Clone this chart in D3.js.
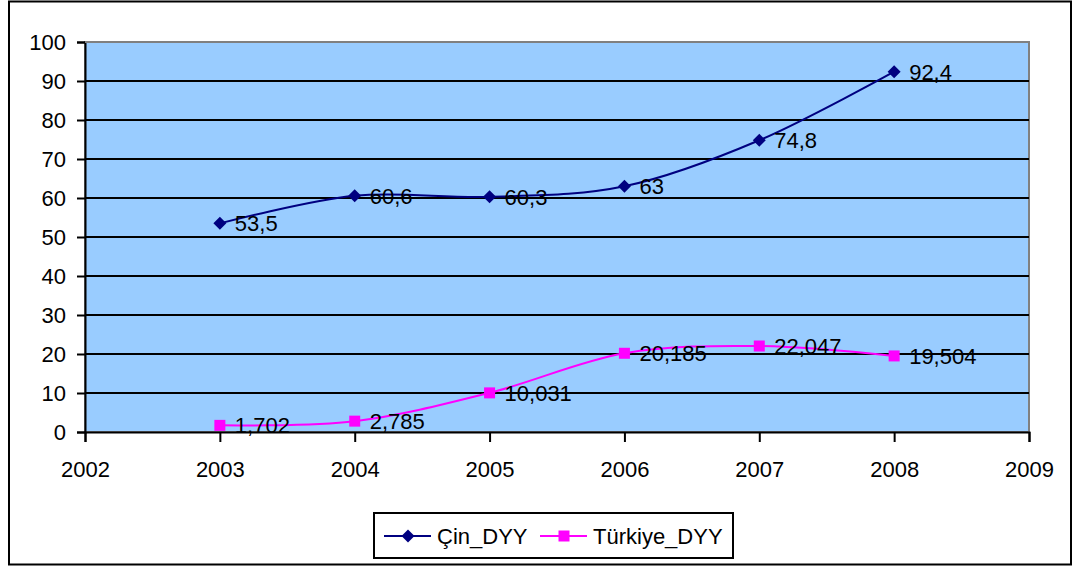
<!DOCTYPE html>
<html>
<head>
<meta charset="utf-8">
<script src="https://cdn.jsdelivr.net/npm/d3@7"></script>
<style>
  body { margin: 0; background: #fff; }
  text { font-family: "Liberation Sans", Arial, sans-serif; fill: #000; }
</style>
</head>
<body>
<div id="chart"></div>
<script>
// data
const years = [2003, 2004, 2005, 2006, 2007, 2008];
const cinValues = [53.5, 60.6, 60.3, 63, 74.8, 92.4];
const turkiyeValues = [1.702, 2.785, 10.031, 20.185, 22.047, 19.504];
const cinLabels = ["53,5", "60,6", "60,3", "63", "74,8", "92,4"];
const turkiyeLabels = ["1,702", "2,785", "10,031", "20,185", "22,047", "19,504"];
const seriesNames = ["Çin_DYY", "Türkiye_DYY"];
const xTicks = [2002, 2003, 2004, 2005, 2006, 2007, 2008, 2009];
const yTicks = [0, 10, 20, 30, 40, 50, 60, 70, 80, 90, 100];

const width = 1074, height = 568;
const plot = {left: 85, right: 1029, top: 42, bottom: 432};

let svg = d3.select("#chart").append("svg")
    .attr("width", width)
    .attr("height", height);

// outer frame
svg.append("rect")
    .attr("x", 9).attr("y", 1.5)
    .attr("width", 1062).attr("height", 563)
    .style("fill", "white")
    .style("stroke", "black")
    .style("stroke-width", 2);

let x = d3.scaleLinear().domain([2002, 2009]).range([plot.left, plot.right]);
let y = d3.scaleLinear().domain([0, 100]).range([plot.bottom, plot.top]);

// plot area
svg.append("rect")
    .attr("x", plot.left).attr("y", plot.top)
    .attr("width", plot.right - plot.left).attr("height", plot.bottom - plot.top)
    .style("fill", "#99CCFF")
    .style("stroke", "#808080")
    .style("stroke-width", 2);

// gridlines
svg.append("g").selectAll("line")
    .data(yTicks.filter(d => d > 0 && d < 100))
    .join("line")
        .attr("x1", plot.left).attr("x2", plot.right)
        .attr("y1", d => y(d)).attr("y2", d => y(d))
        .style("stroke", "black")
        .style("stroke-width", 2);

// y axis
let yAxis = d3.axisLeft(y).tickValues(yTicks).tickSize(8).tickPadding(11).tickFormat(d3.format("d"));
let gy = svg.append("g")
    .attr("transform", "translate(" + plot.left + ",0)")
    .call(yAxis);
gy.select(".domain").style("stroke", "black").style("stroke-width", 2);
gy.selectAll(".tick line").style("stroke", "black").style("stroke-width", 2);
gy.selectAll(".tick text").style("font-size", "22px").attr("dy", "0.35em")
    .style("font-family", "'Liberation Sans', Arial, sans-serif");

// x axis
let xAxis = d3.axisBottom(x).tickValues(xTicks).tickSize(10).tickPadding(19).tickFormat(d3.format("d"));
let gx = svg.append("g")
    .attr("transform", "translate(0," + plot.bottom + ")")
    .call(xAxis);
gx.select(".domain").style("stroke", "black").style("stroke-width", 2);
gx.selectAll(".tick line").style("stroke", "black").style("stroke-width", 2);
gx.selectAll(".tick text").style("font-size", "22px")
    .style("font-family", "'Liberation Sans', Arial, sans-serif");
// gray top border over the axis end
svg.append("line")
    .attr("x1", plot.left).attr("x2", plot.right)
    .attr("y1", plot.top).attr("y2", plot.top)
    .style("stroke", "#808080").style("stroke-width", 2);

const line = d3.line()
    .x(d => x(d.year))
    .y(d => y(d.v))
    .curve(d3.curveCardinal.tension(0));

function drawSeries(values, labels, color, marker){
    let pts = values.map((v, i) => ({year: years[i], v: v, label: labels[i]}));
    svg.append("path")
        .datum(pts)
        .attr("d", line)
        .style("fill", "none")
        .style("stroke", color)
        .style("stroke-width", 2);
    svg.append("g").selectAll("path")
        .data(pts)
        .join("path")
            .attr("transform", d => "translate(" + x(d.year) + "," + y(d.v) + ")")
            .attr("d", marker === "diamond"
                ? "M0,-6.5L6.5,0L0,6.5L-6.5,0Z"
                : "M-5.5,-5.5H5.5V5.5H-5.5Z")
            .style("fill", color);
    svg.append("g").selectAll("text")
        .data(pts)
        .join("text")
            .attr("x", d => x(d.year) + 15)
            .attr("y", d => y(d.v) + 8)
            .style("font-size", "22px")
            .text(d => d.label);
}

drawSeries(cinValues, cinLabels, "#000080", "diamond");
drawSeries(turkiyeValues, turkiyeLabels, "#FF00FF", "square");

// legend
let legend = svg.append("g");
legend.append("rect")
    .attr("x", 374).attr("y", 513)
    .attr("width", 359).attr("height", 45)
    .style("fill", "white")
    .style("stroke", "black")
    .style("stroke-width", 2);
const legendItems = [
    {name: seriesNames[0], color: "#000080", marker: "M0,-6.5L6.5,0L0,6.5L-6.5,0Z", x: 384},
    {name: seriesNames[1], color: "#FF00FF", marker: "M-5.5,-5.5H5.5V5.5H-5.5Z", x: 540}
];
let li = legend.selectAll("g.item")
    .data(legendItems)
    .join("g")
        .attr("class", "item")
        .attr("transform", d => "translate(" + d.x + ",536)");
li.append("line")
    .attr("x1", 0).attr("x2", 47)
    .style("stroke", d => d.color).style("stroke-width", 2);
li.append("path")
    .attr("transform", "translate(24,0)")
    .attr("d", d => d.marker)
    .style("fill", d => d.color);
li.append("text")
    .attr("x", 53).attr("y", 8)
    .style("font-size", "22px")
    .text(d => d.name);
</script>
</body>
</html>
